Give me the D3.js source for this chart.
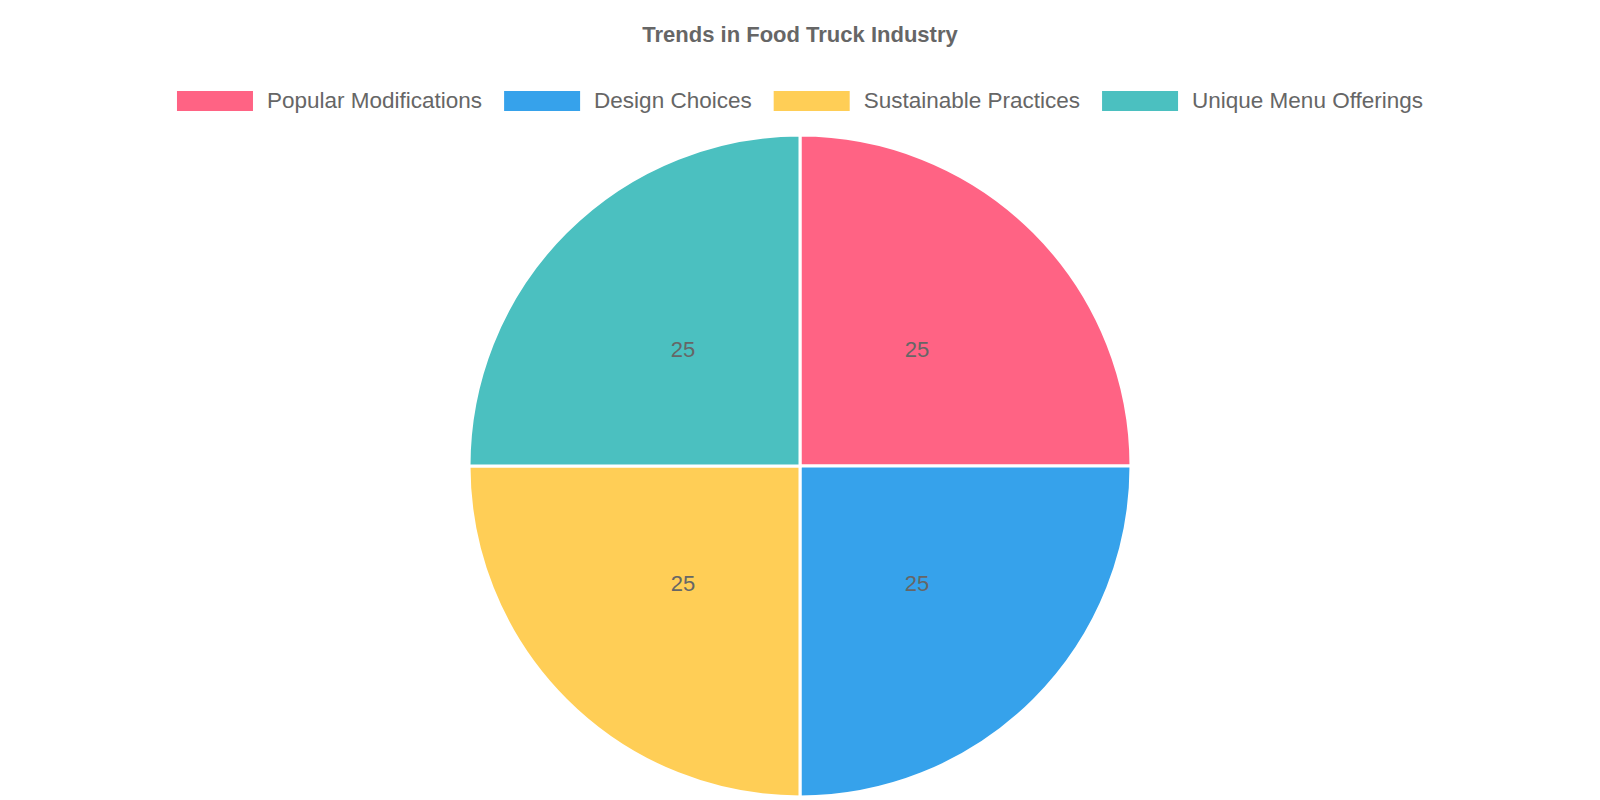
<!DOCTYPE html>
<html><head><meta charset="utf-8">
<script src="https://cdn.jsdelivr.net/npm/d3@7"></script>
<style>body{margin:0;background:#fff}</style>
</head><body><svg id="c" width="1600" height="800"></svg>
<script>
const categories = ["Popular Modifications","Design Choices","Sustainable Practices","Unique Menu Offerings"];
const values = [25,25,25,25];
const colors = ["#ff6384","#36a2eb","#ffce56","#4bc0c0"];
const title = "Trends in Food Truck Industry";

const svg = d3.select("#c");
const font = "'Liberation Sans', Arial, sans-serif";
svg.append("text").attr("x",800).attr("y",42).attr("text-anchor","middle")
  .attr("font-family",font).attr("font-weight","bold").attr("font-size",22).attr("fill","#666").text(title);

// legend
const lg = svg.append("g");
let x = 0;
categories.forEach((c,i)=>{
  const g = lg.append("g").attr("transform",`translate(${x},0)`);
  g.append("rect").attr("x",0).attr("y",91).attr("width",76).attr("height",20).attr("fill",colors[i]);
  const t = g.append("text").attr("x",90).attr("y",108).attr("font-family",font).attr("font-size",22.5).attr("fill","#666").text(c);
  x += 90 + t.node().getComputedTextLength() + 22;
});
const totalW = x - 22;
lg.attr("transform",`translate(${(1600-totalW)/2},0)`);

const cx = 800, cy = 466, r = 331;
const pie = d3.pie().sort(null).value(d=>d)(values);
const arc = d3.arc().innerRadius(0).outerRadius(r);
const g = svg.append("g").attr("transform",`translate(${cx},${cy})`);
g.selectAll("path").data(pie).join("path").attr("d",arc)
  .attr("fill",(d,i)=>colors[i]).attr("stroke","#fff").attr("stroke-width",3);
const la = d3.arc().innerRadius(0).outerRadius(r);
g.selectAll("text.v").data(pie).join("text").attr("class","v")
  .attr("transform",d=>`translate(${la.centroid(d)})`).attr("text-anchor","middle").attr("dy","0.35em")
  .attr("font-family",font).attr("font-size",22).attr("fill","#666").text(d=>d.data);
</script></body></html>
